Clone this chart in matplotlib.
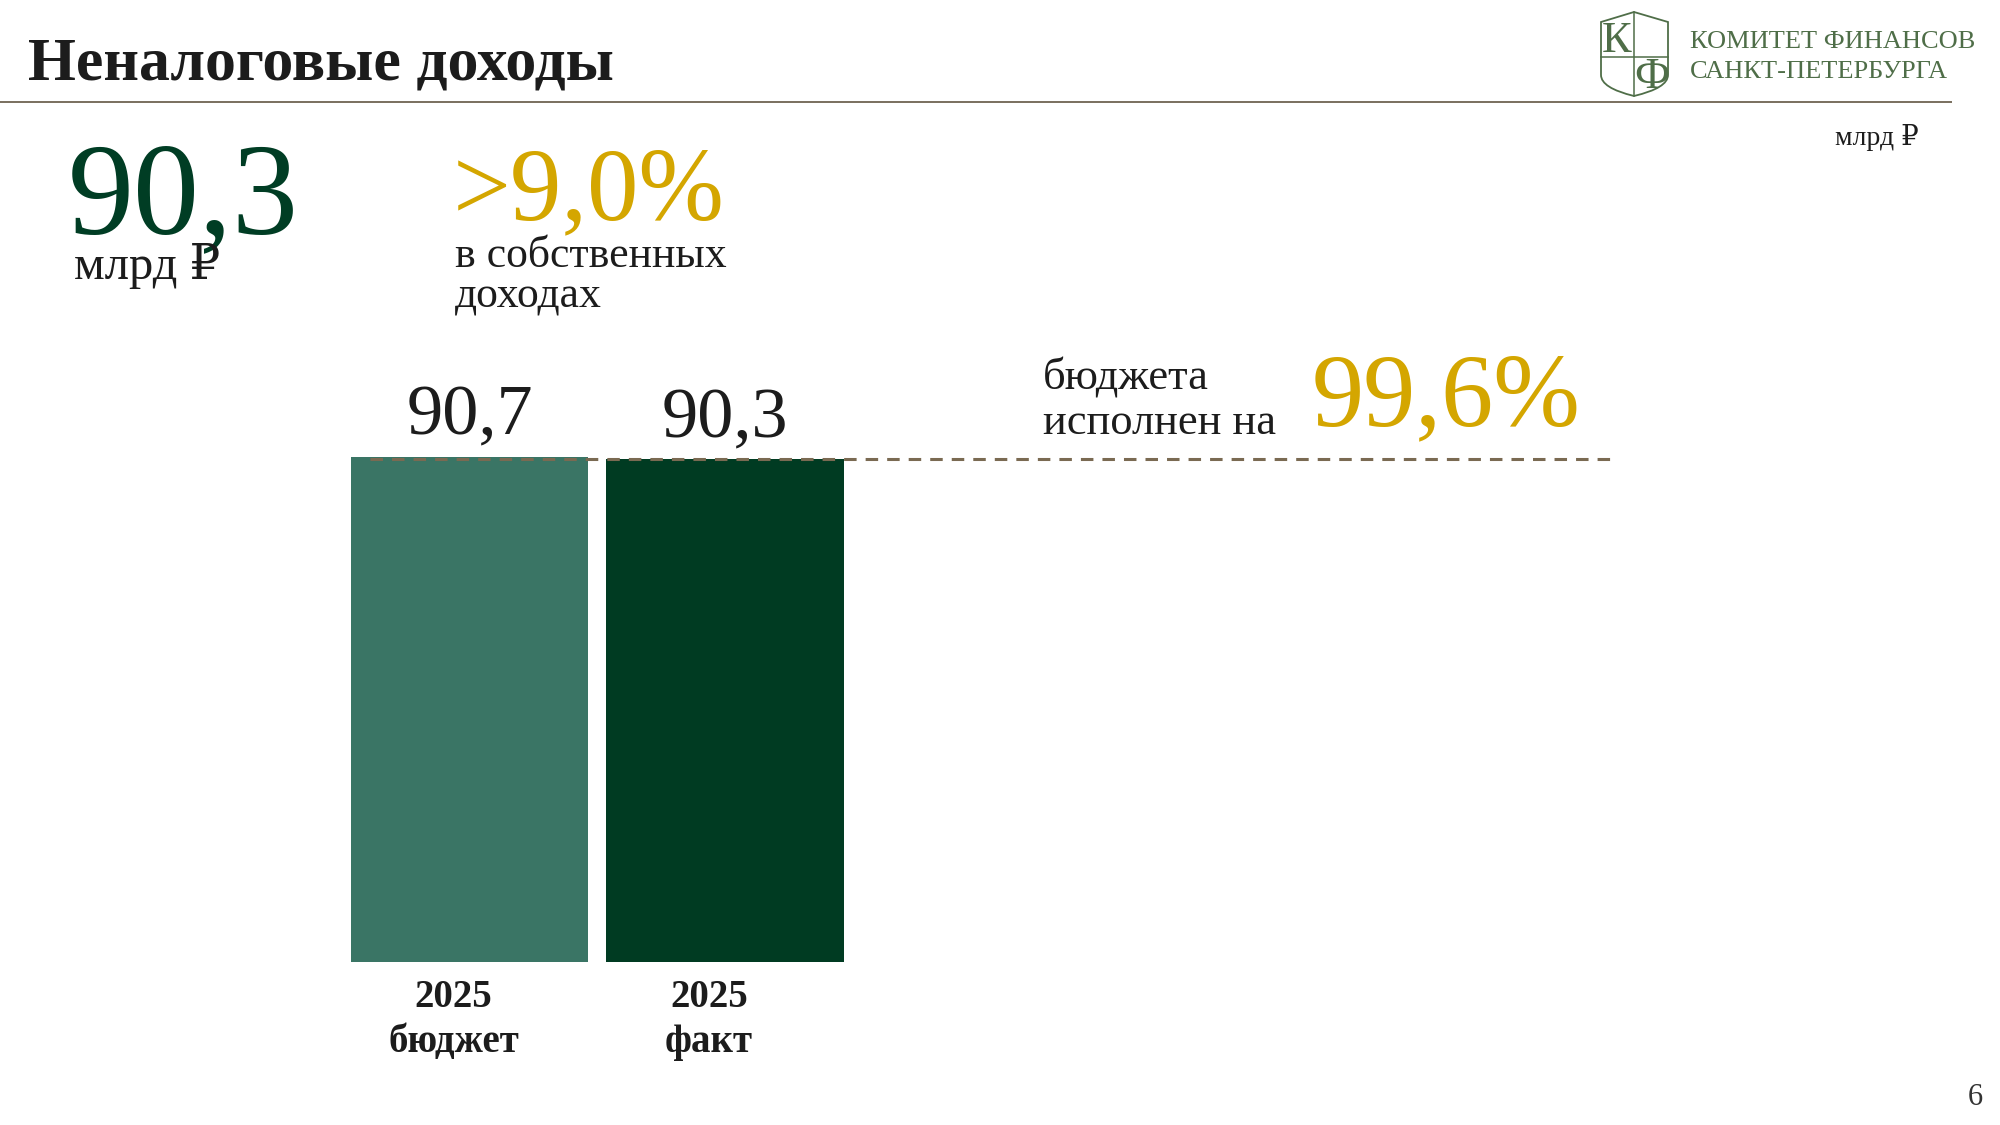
import matplotlib
matplotlib.use("Agg")
import matplotlib.pyplot as plt
from matplotlib.path import Path
from matplotlib.patches import PathPatch
import matplotlib.transforms as mtransforms

# ---- data ----
years = ["2025", "2025"]
kinds = ["бюджет", "факт"]
values = [90.7, 90.3]
value_labels = ["90,7", "90,3"]
headline_value = "90,3"
headline_unit = "млрд ₽"
share_text = ">9,0%"
share_caption = ["в собственных", "доходах"]
exec_text = "99,6%"
exec_caption = ["бюджета", "исполнен на"]
title = "Неналоговые доходы"
unit_note = "млрд ₽"
logo_lines = ["КОМИТЕТ ФИНАНСОВ", "САНКТ-ПЕТЕРБУРГА"]
page_no = "6"

SERIF = ["Liberation Serif", "DejaVu Serif"]
plt.rcParams["font.family"] = SERIF
plt.rcParams["lines.scale_dashes"] = False

GREEN_DARK = "#003b22"
GREEN_MID = "#3a7565"
GOLD = "#d4a600"
LINE = "#6e6352"
DASH = "#7a6a52"
LOGO = "#4f6e48"
TXT = "#1c1c1c"

fig = plt.figure(figsize=(20, 11.25), dpi=100)

# overlay axes in pixel coordinates
ov = fig.add_axes([0, 0, 1, 1])
ov.set_xlim(0, 2000)
ov.set_ylim(1125, 0)
ov.axis("off")

# title + rule
ov.text(28, 80, title, fontsize=44.5, fontweight="bold", color=TXT, va="baseline", ha="left")
ov.plot([0, 1952], [102, 102], color=LINE, lw=1.3, solid_capstyle="butt")

# logo shield
verts = [(1601, 22), (1634, 12), (1668, 22), (1668, 75), (1668, 88), (1634, 96),
         (1601, 88), (1601, 75), (1601, 22)]
codes = [Path.MOVETO, Path.LINETO, Path.LINETO, Path.LINETO, Path.CURVE3, Path.CURVE3,
         Path.CURVE3, Path.CURVE3, Path.CLOSEPOLY]
ov.add_patch(PathPatch(Path(verts, codes), facecolor="none", edgecolor=LOGO, lw=1.3))
ov.plot([1634, 1634], [12, 96], color=LOGO, lw=1.1)
ov.plot([1601, 1668], [57, 57], color=LOGO, lw=1.1)
ov.text(1617, 52, "К", fontsize=32, color=LOGO, ha="center", va="baseline")
ov.text(1652, 88, "Ф", fontsize=32, color=LOGO, ha="center", va="baseline")
ov.text(1690, 48, logo_lines[0], fontsize=19, color=LOGO, va="baseline", ha="left")
ov.text(1690, 78, logo_lines[1], fontsize=19, color=LOGO, va="baseline", ha="left")

ov.text(1835, 145, unit_note, fontsize=20, color=TXT, va="baseline", ha="left")

# headline figures
ov.text(68, 233, headline_value, fontsize=95, color="#003d24", va="baseline", ha="left")
ov.text(74, 279, headline_unit, fontsize=35, color=TXT, va="baseline", ha="left")
ov.text(453, 219, share_text, fontsize=74, color=GOLD, va="baseline", ha="left")
ov.text(455, 267, share_caption[0], fontsize=31.5, color=TXT, va="baseline", ha="left")
ov.text(455, 308, share_caption[1], fontsize=31.5, color=TXT, va="baseline", ha="left")

ov.text(1043, 389, exec_caption[0], fontsize=32, color=TXT, va="baseline", ha="left")
ov.text(1043, 434, exec_caption[1], fontsize=32, color=TXT, va="baseline", ha="left")
ov.text(1312, 425, exec_text, fontsize=75, color=GOLD, va="baseline", ha="left")

ov.text(1975, 1105, page_no, fontsize=22, color="#333333", va="baseline", ha="center")

# bar axes
ax = fig.add_axes([0.15, (1125 - 962) / 1125, 0.70, 556.8 / 1125])
ax.set_zorder(2)
ax.patch.set_alpha(0)
x = list(range(len(values)))
ax.bar(x, values, width=0.928, color=[GREEN_MID, GREEN_DARK])
ax.set_xlim(-0.6634, 4.816)
ax.set_ylim(0, 100)
for side in ax.spines.values():
    side.set_visible(False)
ax.set_yticks([])
ax.tick_params(axis="x", length=0, pad=12)
ax.set_xticks(x)
ax.set_xticklabels([f"{y}\n{k}" for y, k in zip(years, kinds)], fontsize=28,
                   fontweight="bold", color=TXT, linespacing=1.3)
offset = mtransforms.ScaledTranslation(-16 / 100, 0, fig.dpi_scale_trans)
for lab in ax.get_xticklabels():
    lab.set_transform(lab.get_transform() + offset)

for xi, v, lab in zip(x, values, value_labels):
    ax.annotate(lab, (xi, v), xytext=(0, 16), textcoords="offset points",
                ha="center", va="baseline", fontsize=52, color=TXT)

ax.hlines(values[1], -0.389, 4.479, colors=DASH, lw=2.2, linestyles=(0, (9, 6.5)), zorder=3)

fig.savefig("out.png", dpi=100)
